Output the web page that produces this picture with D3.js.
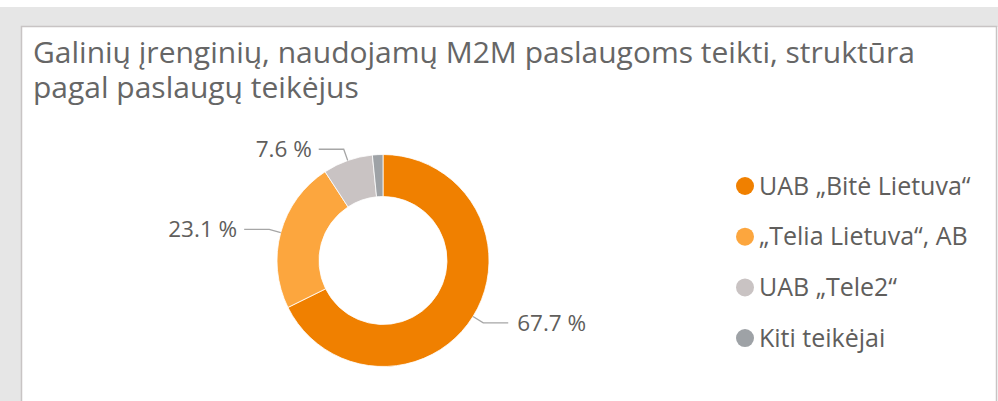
<!DOCTYPE html>
<html>
<head>
<meta charset="utf-8">
<script src="https://cdn.jsdelivr.net/npm/d3@7"></script>
<style>
  body { margin: 0; background: #fff; }
  text { font-family: "Open Sans", "Noto Sans", sans-serif; }
</style>
</head>
<body>
<div id="chart"></div>
<script>
// data
var categories = ["UAB \u201EBit\u0117 Lietuva\u201C", "\u201ETelia Lietuva\u201C, AB", "UAB \u201ETele2\u201C", "Kiti teik\u0117jai"];
var shares = [67.7, 23.1, 7.6, 1.6];
var valueLabels = ["67.7 %", "23.1 %", "7.6 %", ""];
var colors = ["#f08000", "#fca63e", "#c9c3c3", "#9ea2a6"];
var titleLines = ["Galini\u0173 \u012Frengini\u0173, naudojam\u0173 M2M paslaugoms teikti, strukt\u016Bra",
                  "pagal paslaug\u0173 teik\u0117jus"];

(function(){
  var W = 998, H = 401;
  var svg = d3.select("#chart").append("svg")
      .attr("width", W).attr("height", H);

  // frame: grey surround + white panel
  svg.append("rect").attr("x", 0).attr("y", 7).attr("width", W).attr("height", H - 7).attr("fill", "#e6e6e6");
  svg.append("rect").attr("x", 21.5).attr("y", 26.5).attr("width", 975).attr("height", H)
      .attr("fill", "#fff").attr("stroke", "#c8c4c4").attr("stroke-width", 1.5);
  svg.append("rect").attr("x", 997.5).attr("y", 27).attr("width", 1).attr("height", H).attr("fill", "#fff");

  // title
  svg.append("g").selectAll("text").data(titleLines).enter().append("text")
      .attr("x", 33).attr("y", function(d, i) { return 63 + i * 35; })
      .attr("font-size", 30).attr("fill", "#666")
      .text(function(d) { return d; });

  // donut
  var cx = 383, cy = 260.5, rOuter = 106, rInner = 64;
  var pie = d3.pie().sort(null).value(function(d) { return d; });
  var arcs = pie(shares);
  var arc = d3.arc().innerRadius(rInner).outerRadius(rOuter);
  var g = svg.append("g").attr("transform", "translate(" + cx + "," + cy + ")");

  g.selectAll("path.slice").data(arcs).enter().append("path")
      .attr("class", "slice")
      .attr("d", arc)
      .attr("fill", function(d, i) { return colors[i]; })
      .attr("stroke", "#fff").attr("stroke-width", 0.8);

  // leader lines + labels
  var labelled = arcs.filter(function(d, i) { return valueLabels[i] !== ""; });
  labelled.forEach(function(d) {
    var a = (d.startAngle + d.endAngle) / 2;
    var p1 = [Math.sin(a) * rOuter, -Math.cos(a) * rOuter];
    var p2 = [Math.sin(a) * (rOuter + 12), -Math.cos(a) * (rOuter + 12)];
    var right = Math.sin(a) > 0;
    var p3 = [p2[0] + (right ? 25 : -25), p2[1]];
    g.append("path")
        .attr("d", d3.line()([p1, p2, p3]))
        .attr("fill", "none").attr("stroke", "#a6a6a6").attr("stroke-width", 1.3);
    g.append("text")
        .attr("x", p3[0] + (right ? 9 : -7))
        .attr("y", p3[1])
        .attr("dy", "0.35em")
        .attr("text-anchor", right ? "start" : "end")
        .attr("font-size", 22.5).attr("fill", "#605e5c")
        .text(valueLabels[d.index]);
  });

  // legend
  var legend = svg.append("g").attr("transform", "translate(745,186)");
  var rows = legend.selectAll("g").data(categories).enter().append("g")
      .attr("transform", function(d, i) { return "translate(0," + i * 50.7 + ")"; });
  rows.append("circle").attr("r", 9).attr("fill", function(d, i) { return colors[i]; });
  rows.append("text").attr("x", 14).attr("dy", "0.35em")
      .attr("font-size", 25).attr("fill", "#605e5c")
      .text(function(d) { return d; });
})();
</script>
</body>
</html>
